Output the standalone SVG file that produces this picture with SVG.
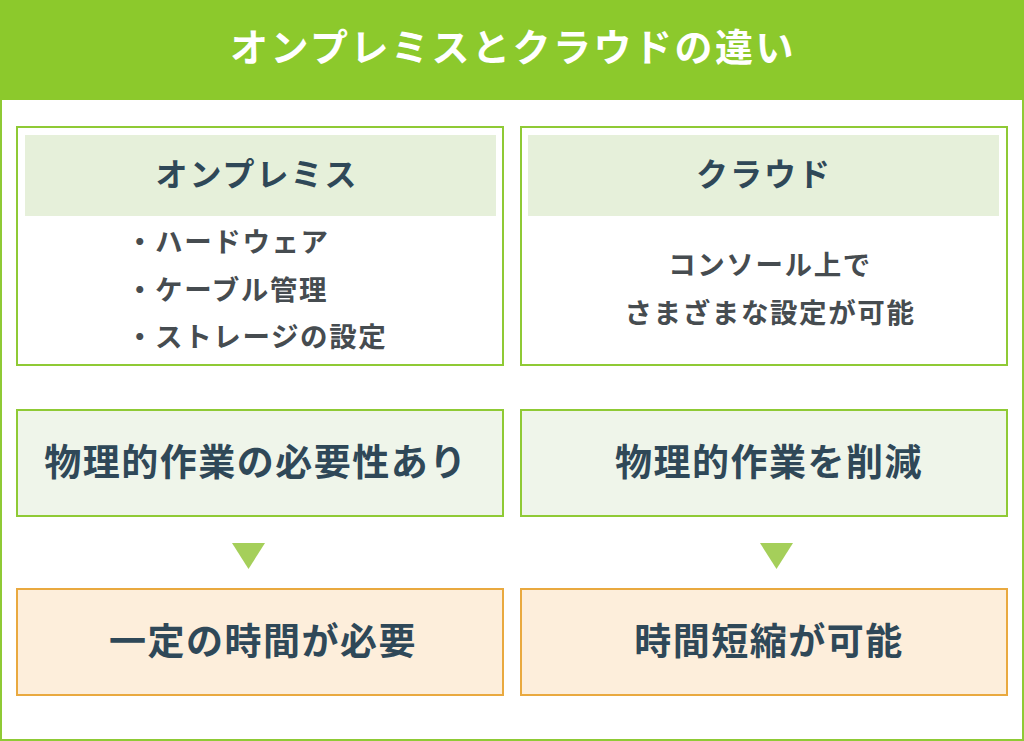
<svg xmlns="http://www.w3.org/2000/svg" width="1024" height="741" viewBox="0 0 1024 741">
<style>
text{font-family:"Noto Sans CJK JP","Noto Sans",sans-serif;font-weight:700;fill:#2f4858;text-anchor:middle}
.g{fill:#fff;stroke:#8fca35;stroke-width:2}
.h{fill:#e6f0da}
.p{fill:#eff5ea;stroke:#8fca35;stroke-width:2}
.o{fill:#fdeedb;stroke:#e9a93f;stroke-width:2}
.s{font-size:27.500px;letter-spacing:1.6px;fill:#464c50}
.b{text-anchor:start}
.m{font-size:32px;letter-spacing:2px}
.l{font-size:37px;letter-spacing:1.500px}
.a{fill:#a5cf5a}
</style>
<rect x="1" y="1" width="1022" height="739" fill="#fff" stroke="#8fca35" stroke-width="2"/>
<g id="title"><rect width="1024" height="100" fill="#8cc92c"/><text x="513" y="61" font-size="38" letter-spacing="2.500" style="fill:#fff">オンプレミスとクラウドの違い</text></g>
<g id="onpremise"><rect class="g" x="17" y="127" width="486" height="238"/><rect class="h" x="25" y="135" width="471" height="81"/><text class="m" x="257" y="186">オンプレミス</text>
<text class="s b" x="126" y="252">・ハードウェア</text><text class="s b" x="126" y="300">・ケーブル管理</text><text class="s b" x="126" y="347">・ストレージの設定</text></g>
<g id="cloud"><rect class="g" x="521" y="127" width="486" height="238"/><rect class="h" x="528" y="135" width="471" height="81"/><text class="m" x="764" y="186">クラウド</text><text class="s" x="770" y="275">コンソール上で</text><text class="s" x="770" y="323">さまざまな設定が可能</text></g>
<g id="physical-required"><rect class="p" x="17" y="410" width="486" height="106"/><text class="l" x="256" y="476">物理的作業の必要性あり</text></g>
<g id="physical-reduced"><rect class="p" x="521" y="410" width="486" height="106"/><text class="l" x="769" y="476">物理的作業を削減</text></g>
<g id="time-required"><rect class="o" x="17" y="589" width="486" height="106"/><text class="l" x="263" y="655">一定の時間が必要</text></g>
<g id="time-reduced"><rect class="o" x="521" y="589" width="486" height="106"/><text class="l" x="769" y="655">時間短縮が可能</text></g>
<g id="connectors"><polygon class="a" points="232,543 265,543 248.500,569"/><polygon class="a" points="760,543 793,543 776.500,569"/></g>
</svg>
